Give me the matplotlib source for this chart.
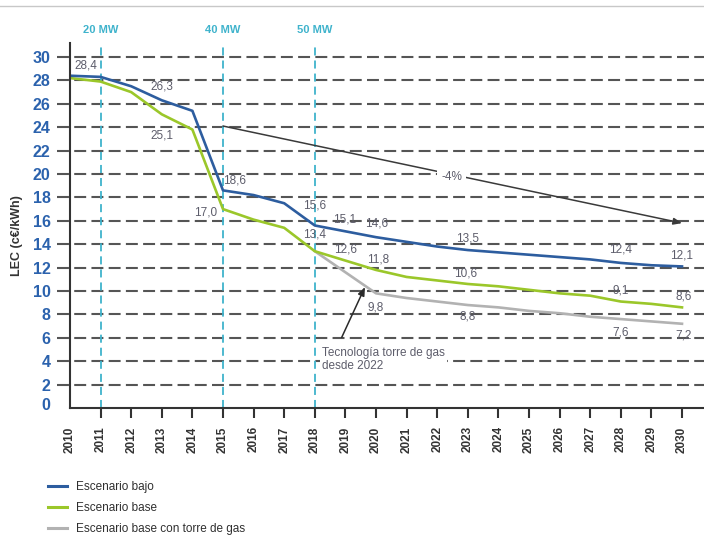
import matplotlib
matplotlib.use("Agg")
import matplotlib.pyplot as plt
from matplotlib.lines import Line2D
import matplotlib.transforms as mtransforms

plt.rcParams['font.family'] = ['Liberation Sans', 'DejaVu Sans']
plt.rcParams['lines.scale_dashes'] = False

# ---- data -------------------------------------------------------------
years = list(range(2010, 2031))
escenario_bajo = [28.4, 28.3, 27.5, 26.3, 25.4, 18.6, 18.2, 17.5, 15.6, 15.1,
                  14.6, 14.2, 13.8, 13.5, 13.3, 13.1, 12.9, 12.7, 12.4, 12.2, 12.1]
escenario_base = [28.2, 27.9, 27.0, 25.1, 23.8, 17.0, 16.1, 15.4, 13.4, 12.6,
                  11.8, 11.2, 10.9, 10.6, 10.4, 10.1, 9.8, 9.6, 9.1, 8.9, 8.6]
gas_years = list(range(2018, 2031))
escenario_gas = [13.4, 11.6, 9.8, 9.4, 9.1, 8.8, 8.6, 8.3, 8.1, 7.8, 7.6, 7.4, 7.2]

milestone_years = [2011, 2015, 2018]
milestone_labels = ["20 MW", "40 MW", "50 MW"]

bajo_labelled = [2010, 2013, 2015, 2018, 2019, 2020, 2023, 2028, 2030]
base_labelled = [2013, 2015, 2018, 2019, 2020, 2023, 2028, 2030]
gas_labelled = [2020, 2023, 2028, 2030]

trend_start = (2015, 24.1)
trend_end = (2030, 15.8)
trend_label = "-4%"

legend_labels = ["Escenario bajo", "Escenario base", "Escenario base con torre de gas"]
y_ticks = list(range(0, 31, 2))

# ---- styling ------------------------------------------------------------
BLUE = "#2d5d9f"
GREEN = "#9bc72a"
GREY = "#b2b2b2"
CYAN = "#3fb3cc"
TICK_BLUE = "#2b62ad"
LABEL_GREY = "#5d5d6b"
DARK = "#333333"

# label offsets in pixels (dx, dy) per series
bajo_off = {2010: (16, 10), 2013: (0, 14), 2015: (12, 10), 2018: (0, 20), 2019: (-1, 12),
            2020: (1, 14), 2023: (0, 12), 2028: (0, 13), 2030: (0, 11)}
base_off = {2013: (0, -21), 2015: (-17, -3), 2018: (0, 17), 2019: (0, 11), 2020: (2, 10),
            2023: (-2, 10), 2028: (0, 11), 2030: (2, 11)}
gas_off = {2020: (0, -14), 2023: (0, -11), 2028: (0, -13), 2030: (2, -12)}

W, H = 704, 537
fig = plt.figure(figsize=(W / 100, H / 100), dpi=100)
fig.patch.set_facecolor("white")

ax_left, ax_right, ax_top, ax_bottom = 70, 704, 43, 408
ax = fig.add_axes([ax_left / W, 1 - ax_bottom / H,
                   (ax_right - ax_left) / W, (ax_bottom - ax_top) / H])
ax.set_xlim(2010, 2010 + (ax_right - ax_left) / 30.6)
ax.set_ylim(0, (ax_bottom - ax_top) / 11.7)

# thin rule across the top of the figure
fig.add_artist(Line2D([0, 1], [1 - 6 / H] * 2, transform=fig.transFigure,
                      color="#c8c8c8", lw=1.0))

# horizontal dashed grid, extending a little left of the axis
for yv in y_ticks[1:]:
    ax.plot([-0.021, 1.0], [yv, yv],
            transform=mtransforms.blended_transform_factory(ax.transAxes, ax.transData),
            color="#555555", lw=1.5, dashes=(8.6, 3.8), clip_on=False, zorder=1)

# capacity milestones
for yr, lab in zip(milestone_years, milestone_labels):
    ax.axvline(yr, color=CYAN, lw=1.3, dashes=(5.8, 3.6), zorder=1.5)
    ax.text(yr, 1.0356, lab, transform=mtransforms.blended_transform_factory(ax.transData, ax.transAxes),
            ha="center", va="center", color=CYAN, fontsize=8, fontweight="bold")

# scenario lines
ax.plot(years, escenario_bajo, color=BLUE, lw=1.9, zorder=4, solid_joinstyle="round")
ax.plot(years, escenario_base, color=GREEN, lw=1.9, zorder=3, solid_joinstyle="round")
ax.plot(gas_years, escenario_gas, color=GREY, lw=1.9, zorder=2, solid_joinstyle="round")


def put_labels(xs, ys, chosen, offsets):
    for yr in chosen:
        v = ys[xs.index(yr)]
        dx, dy = offsets[yr]
        ax.annotate(f"{v:.1f}".replace(".", ","), (yr, v), xytext=(dx, dy),
                    textcoords="offset pixels", ha="center", va="center",
                    fontsize=8.5, color=LABEL_GREY, zorder=6)


put_labels(years, escenario_bajo, bajo_labelled, bajo_off)
put_labels(years, escenario_base, base_labelled, base_off)
put_labels(gas_years, escenario_gas, gas_labelled, gas_off)

# -4% trend arrow
ax.annotate("", xy=trend_end, xytext=trend_start,
            arrowprops=dict(arrowstyle="-|>,head_length=0.5,head_width=0.2",
                            color="#3a3a3a", lw=1.1, shrinkA=0, shrinkB=0), zorder=5)
mx = trend_start[0] + 0.498 * (trend_end[0] - trend_start[0])
my = trend_start[1] + 0.498 * (trend_end[1] - trend_start[1])
ax.text(mx, my - 0.25, trend_label, ha="center", va="center", fontsize=8.5, color=LABEL_GREY,
        zorder=6, bbox=dict(boxstyle="square,pad=0.35", fc="white", ec="none"))

# gas tower annotation
ax.annotate("", xy=(2019.64, 10.34), xytext=(2018.88, 6.04),
            arrowprops=dict(arrowstyle="-|>,head_length=0.5,head_width=0.2",
                            color="#2a2a2a", lw=1.1, shrinkA=0, shrinkB=0), zorder=5)
ax.text(2018.24, 5.25, "Tecnología torre de gas\ndesde 2022", ha="left", va="top",
        fontsize=8.5, color=LABEL_GREY, linespacing=1.2, zorder=6,
        bbox=dict(boxstyle="square,pad=0.15", fc="white", ec="none"))

# axes
for side in ("top", "right"):
    ax.spines[side].set_visible(False)
for side in ("left", "bottom"):
    ax.spines[side].set_color(DARK)
    ax.spines[side].set_linewidth(1.5)
    ax.spines[side].set_zorder(7)

ax.set_yticks(y_ticks)
ax.set_yticklabels([str(v) for v in y_ticks])
ax.tick_params(axis="y", length=0, pad=14, labelsize=11.5, labelcolor=TICK_BLUE)
for t in ax.get_yticklabels():
    t.set_fontweight("bold")
# the zero label sits a little above the baseline
zero_lab = ax.get_yticklabels()[0]
zero_lab.set_transform(zero_lab.get_transform() +
                       mtransforms.ScaledTranslation(0, 4 / 100, fig.dpi_scale_trans))

ax.set_xticks(years)
ax.set_xticklabels([str(y) for y in years], rotation=90)
ax.tick_params(axis="x", direction="out", length=7.2, width=1.5, color=DARK,
               pad=6, labelsize=8.5, labelcolor=DARK)
for t in ax.get_xticklabels():
    t.set_fontweight("bold")
ax.xaxis.get_major_ticks()[0].tick1line.set_visible(False)

fig.text(17 / W, 1 - 236 / H, "LEC (c€/kWh)", rotation=90, ha="center", va="center",
         fontsize=9, fontweight="bold", color=DARK)

handles = [Line2D([], [], color=c, lw=2.2) for c in (BLUE, GREEN, GREY)]
fig.legend(handles, legend_labels, loc="upper left", bbox_to_anchor=(48 / W, 1 - 481 / H),
           frameon=False, fontsize=8.5, handlelength=1.6, handletextpad=0.8,
           labelspacing=0.75, borderpad=0, borderaxespad=0,
           labelcolor="#2f2f2f")

fig.savefig("out.png", dpi=100, facecolor="white")
